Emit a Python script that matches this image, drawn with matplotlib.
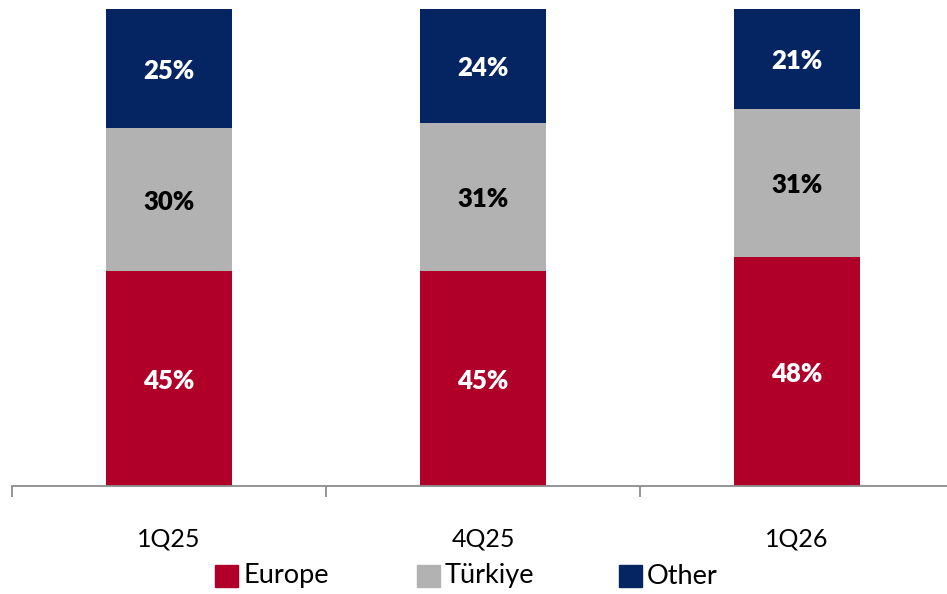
import numpy as np
import matplotlib.pyplot as plt
from matplotlib.patches import Rectangle

plt.rcParams['font.family'] = ['Lato', 'DejaVu Sans']

quarters = ["1Q25", "4Q25", "1Q26"]
series = ["Europe", "Türkiye", "Other"]
europe = [45, 45, 48]
turkiye = [30, 31, 31]
other = [25, 24, 21]
colors = ["#B0002A", "#B2B2B2", "#052462"]
label_colors = ["white", "black", "white"]

fig = plt.figure(figsize=(9.47, 5.94), dpi=100)
ax = fig.add_axes([12/947, 1 - 486/594, 942/947, 477/594])

x = np.arange(len(quarters))
bottom = np.zeros(len(quarters))
for vals, col, lc in zip([europe, turkiye, other], colors, label_colors):
    vals = np.array(vals, dtype=float)
    ax.bar(x, vals, bottom=bottom, width=0.40, color=col, edgecolor="none")
    for xi, b, v in zip(x, bottom, vals):
        ax.text(xi, b + v / 2, f"{int(v)}%", ha="center", va="center_baseline",
                color=lc, fontsize=18.5, fontweight="heavy")
    bottom += vals

ax.set_xlim(-0.5, 2.5)
ax.set_ylim(0, 100)
for s in ["top", "right", "left"]:
    ax.spines[s].set_visible(False)
ax.spines["bottom"].set_color("#8C8C8C")
ax.spines["bottom"].set_linewidth(1.3)
ax.set_yticks([])
ax.set_xticks(x)
ax.set_xticklabels(quarters, fontsize=18)
ax.tick_params(axis="x", which="major", length=0, pad=30)
ax.set_xticks([-0.5, 0.5, 1.5, 2.5], minor=True)
ax.tick_params(axis="x", which="minor", length=8, width=1.3, color="#8C8C8C")

# legend
for i, (name, col) in enumerate(zip(series, colors)):
    lx = 215 + i * 202
    fig.add_artist(Rectangle((lx / 947, 1 - 587 / 594), 23 / 947, 22 / 594,
                             color=col, transform=fig.transFigure))
    fig.text((lx + 28) / 947, 1 - 576 / 594, name, fontsize=19.5,
             va="center", ha="left")

plt.savefig("out.png", dpi=100)
